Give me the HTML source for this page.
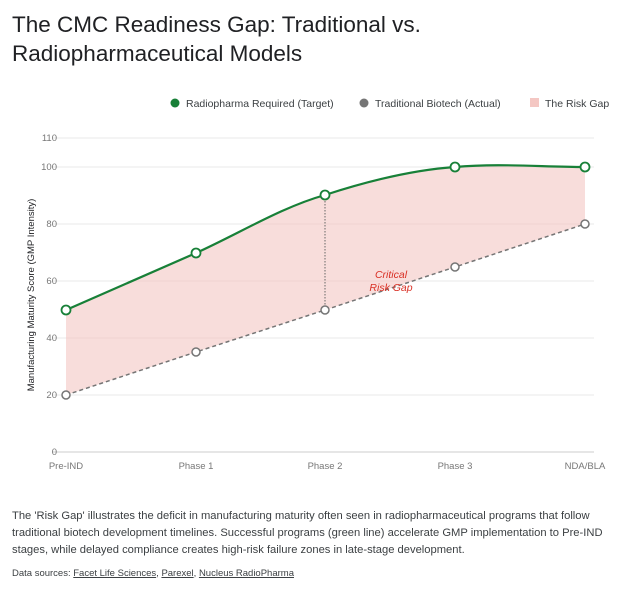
<!DOCTYPE html>
<html><head><style>
body{margin:0;width:620px;height:594px;background:#fff;font-family:"Liberation Sans",sans-serif;overflow:hidden;position:relative}
.t{position:absolute;left:12px;top:10px;font-size:22.5px;line-height:29px;color:#202124}
.d{position:absolute;left:12px;top:508px;width:600px;font-size:11.2px;line-height:17px;color:#3c4043}
.s{position:absolute;left:12px;top:568px;font-size:9.5px;color:#3c4043}
.s u{color:#3c4043}
</style></head><body>
<div class="t">The CMC Readiness Gap: Traditional vs.<br>Radiopharmaceutical Models</div>
<svg width="620" height="594" style="position:absolute;left:0;top:0" font-family="Liberation Sans, sans-serif">
<g font-size="10.5" fill="#3c4043">
<circle cx="175" cy="103" r="4.5" fill="#188038"/><text x="186" y="107">Radiopharma Required (Target)</text>
<circle cx="364" cy="103" r="4.5" fill="#757575"/><text x="375" y="107">Traditional Biotech (Actual)</text>
<rect x="530" y="98" width="9" height="9" fill="#f4c7c3"/><text x="545" y="107">The Risk Gap</text>
</g>
<g stroke="#e8e8e8" stroke-width="1">
<line x1="52" x2="594" y1="138" y2="138"/><line x1="52" x2="594" y1="167" y2="167"/>
<line x1="52" x2="594" y1="224" y2="224"/><line x1="52" x2="594" y1="281" y2="281"/>
<line x1="52" x2="594" y1="338" y2="338"/><line x1="52" x2="594" y1="395" y2="395"/>
</g>
<line x1="52" x2="594" y1="452" y2="452" stroke="#ccc"/>
<g font-size="9.5" fill="#777" text-anchor="end">
<text x="57" y="141">110</text><text x="57" y="170">100</text><text x="57" y="227">80</text><text x="57" y="284">60</text><text x="57" y="341">40</text><text x="57" y="398">20</text><text x="57" y="455">0</text>
</g>
<g font-size="9.5" fill="#777" text-anchor="middle">
<text x="66" y="469">Pre-IND</text><text x="196" y="469">Phase 1</text><text x="325" y="469">Phase 2</text><text x="455" y="469">Phase 3</text><text x="585" y="469">NDA/BLA</text>
</g>
<text transform="translate(34,295) rotate(-90)" font-size="9.5" fill="#202124" text-anchor="middle">Manufacturing Maturity Score (GMP Intensity)</text>
<path d="M66,310 C109,291 152,272 196,253 C240,233 282,207 325,195 C368,181 412,170 455,167 C498,163 542,167 585,167 L585,224 L455,267 L325,310 L196,352 L66,395 Z" fill="#f4c7c3" opacity="0.6"/>
<line x1="325" y1="195" x2="325" y2="310" stroke="#666" stroke-dasharray="1.5,1.5" stroke-width="1"/>
<path d="M66,395 L196,352 L325,310 L455,267 L585,224" fill="none" stroke="#757575" stroke-width="1.5" stroke-dasharray="4,3"/>
<path d="M66,310 C109,291 152,272 196,253 C240,233 282,207 325,195 C368,181 412,170 455,167 C498,163 542,167 585,167" fill="none" stroke="#188038" stroke-width="2.2"/>
<g fill="#fff" stroke="#757575" stroke-width="1.5">
<circle cx="66" cy="395" r="4"/><circle cx="196" cy="352" r="4"/><circle cx="325" cy="310" r="4"/><circle cx="455" cy="267" r="4"/><circle cx="585" cy="224" r="4"/>
</g>
<g fill="#fff" stroke="#188038" stroke-width="1.8">
<circle cx="66" cy="310" r="4.5"/><circle cx="196" cy="253" r="4.5"/><circle cx="325" cy="195" r="4.5"/><circle cx="455" cy="167" r="4.5"/><circle cx="585" cy="167" r="4.5"/>
</g>
<g font-size="10.5" fill="#d93025" font-style="italic" text-anchor="middle">
<text x="391" y="278">Critical</text><text x="391" y="291">Risk Gap</text>
</g>
</svg>
<div class="d">The 'Risk Gap' illustrates the deficit in manufacturing maturity often seen in radiopharmaceutical programs that follow traditional biotech development timelines. Successful programs (green line) accelerate GMP implementation to Pre-IND stages, while delayed compliance creates high-risk failure zones in late-stage development.</div>
<div class="s">Data sources: <u>Facet Life Sciences</u>, <u>Parexel</u>, <u>Nucleus RadioPharma</u></div>
</body></html>
